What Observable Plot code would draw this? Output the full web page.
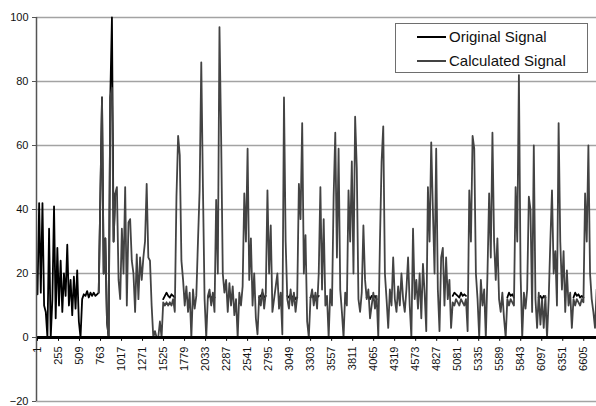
<!DOCTYPE html>
<html>
<head>
<meta charset="utf-8">
<script src="https://cdn.jsdelivr.net/npm/d3@7"></script>
<script src="https://cdn.jsdelivr.net/npm/@observablehq/plot@0.6"></script>
<style>
  body { margin: 0; background: #fff; font-family: Arial, "Liberation Sans", sans-serif; }
  #wrap { position: relative; width: 596px; height: 406px; }
  #legend { position: absolute; left: 395px; top: 23px; width: 193px; height: 50px;
            border: 1px solid #6e6e6e; background: #fff; box-sizing: border-box; }
  .row { position: absolute; left: 0; height: 18px; font-size: 15px; line-height: 18px; color: #111; }
  .sw { position: absolute; left: 21px; top: 8px; width: 29px; height: 0; border-top: 2px solid; }
  .lab { position: absolute; left: 53px; top: 0; white-space: nowrap; }
</style>
</head>
<body>
<div id="wrap">
  <div id="chart"></div>
  <div id="legend"></div>
</div>
<script>
const _ = null;
const seriesNames = ["Original Signal", "Calculated Signal"];
const seriesColors = ["#000000", "#434343"];
const sampleStep = 20; // one stored value every 20 samples, first sample = 1

const originalSignal = [
  13.5, 42, 14, 42, 10, 8, 0, 34, 0, 12,
  41, 6, 28, 10, 24, 8, 20, 13, 29, 10,
  18, 7, 19, 9, 21, 5, 0, 12, 13.5, 13,
  14.5, 12.5, 14, 13, 14, 13, 13.5, 14, 44, 75,
  20, 31, 5, 0, 75, 100, 30, 45,
  _,_,_,_,_,_,_,_,_,_,_,_,_,_,_,_,_,_,_,_,_,_,_,_,_,_,_,_,
  12, 13, 14, 13, 12.5, 13.5, 13, 12.5,
  _,_,_,_,_,_,_,_,_,_,_,_,_,_,_,_,_,_,_,
  12.5, 13.5, 12, 13, 12.5,
  _,_,_,_,_,_,_,_,_,_,_,_,_,_,_,_,_,_,_,_,_,_,_,_,_,_,
  12.5, 13, 14, 12.5, 13,
  _,_,_,_,_,_,_,_,_,_,_,_,
  13, 12.5, 13.5, 12.5, 13, 12, 12.5,
  _,_,_,_,_,_,_,
  12.5, 13.5, 12.5, 13, 12.5, 13,
  _,_,_,_,_,_,_,_,_,_,_,_,_,_,_,_,_,_,_,_,_,_,_,_,_,_,_,_,
  12.5, 13, 12, 13, 12.5, 13, 12,
  _,_,_,_,_,_,_,_,_,_,_,_,_,_,_,_,_,_,_,_,_,_,_,_,_,_,_,_,_,_,_,_,_,_,_,_,_,_,_,_,_,_,_,_,_,
  13, 14, 13.5, 13, 12.5, 14, 13, 13.5, 13,
  _,_,_,_,_,_,_,_,_,_,_,_,_,_,_,_,_,_,_,_,_,_,_,_,
  12.5, 14, 13, 13.5, 12.5,
  _,_,_,_,_,_,_,_,_,_,_,_,_,_,
  12.5, 13, 12, 13, 12.5,
  _,_,_,_,_,_,_,_,_,_,_,_,_,_,_,_,
  12.5, 14, 13, 13.5, 12.5, 13, 12.5,
  _,_,_,_,_,_,_,_
];

const calculatedSignal = [
  _,_,_,_,_,_,_,_,_,_,_,_,_,_,_,_,_,_,_,_,_,_,_,_,_,_,_,_,_,_,_,_,_,_,_,_,_,
  14, 44, 75,
  20, 31, 5, 0, 75, 78, 30, 45, 47, 18,
  12, 34, 20, 47, 10, 36, 37, 24, 20, 8,
  26, 12, 25, 18, 25, 30, 48, 25, 24, 10,
  0, 2, 0, 0, 5, 0, 11, 10, 11, 10,
  11, 10, 12, 8, 44, 63, 57, 24, 18, 10,
  16, 8, 14, 0, 15, 9, 13, 30, 46, 86,
  47, 12, 0, 13, 15, 10, 14, 8, 43, 20,
  97, 63, 20, 14, 18, 8, 17, 10, 16, 7,
  12, 0, 14, 10, 16, 45, 30, 59, 18, 31,
  10, 20, 6, 1, 13, 10, 15, 9, 14, 46,
  20, 35, 8, 12, 16, 20, 9, 14, 1, 75,
  30, 12, 9, 15, 10, 14, 8, 13, 48, 37,
  67, 20, 32, 5, 0, 12, 15, 10, 14, 9,
  20, 47, 15, 37, 10, 13, 0, 15, 10, 44,
  64, 25, 59, 15, 8, 0, 14, 10, 46, 30,
  55, 20, 69, 53, 12, 8, 14, 35, 18, 12,
  15, 6, 10, 14, 9, 13, 0, 30, 55, 66,
  20, 12, 3, 15, 10, 25, 12, 8, 16, 10,
  20, 12, 8, 15, 25, 10, 0, 34, 12, 18,
  9, 20, 6, 23, 14, 2, 47, 30, 61, 40,
  20, 59, 15, 2, 25, 28, 10, 25, 12, 18,
  3, 11, 10, 12, 11, 10, 12, 11, 10, 12,
  2, 46, 30, 63, 59, 20, 12, 0, 18, 10,
  15, 0, 20, 45, 25, 64, 30, 18, 31, 12,
  8, 14, 6, 0, 12, 10, 12, 11, 10, 47,
  30, 82, 20, 0, 14, 9, 15, 44, 40, 8,
  60, 12, 3, 14, 4, 12, 3, 13, 0, 12,
  30, 46, 20, 27, 10, 67, 30, 15, 27, 8,
  21, 10, 14, 3, 12, 10, 12, 11, 10, 12,
  11, 45, 30, 60, 20, 12, 8, 3, 15
];

const xTickLabels = [1, 255, 509, 763, 1017, 1271, 1525, 1779, 2033, 2287, 2541, 2795, 3049,
  3303, 3557, 3811, 4065, 4319, 4573, 4827, 5081, 5335, 5589, 5843, 6097, 6351, 6605];
const yTicks = [-20, 0, 20, 40, 60, 80, 100];

const toRows = arr => arr.map((v, i) => ({ sample: 1 + i * sampleStep, value: v }));
const origRows = toRows(originalSignal);
const calcRows = toRows(calculatedSignal);

const xDomain = [-11, 6759];

const chart = Plot.plot({
  width: 596,
  height: 406,
  marginLeft: 36,
  marginRight: 0,
  marginTop: 17,
  marginBottom: 5,
  style: { fontFamily: "Arial, 'Liberation Sans', sans-serif", background: "#fff" },
  x: { domain: xDomain, axis: null },
  y: { domain: [-20, 100], axis: null },
  marks: [
    Plot.ruleY(yTicks.filter(v => v !== 0), { stroke: "#a3a3a3", strokeWidth: 1.5 }),
    Plot.line(origRows, { x: "sample", y: "value", stroke: seriesColors[0], strokeWidth: 1.8 }),
    Plot.line(calcRows, { x: "sample", y: "value", stroke: seriesColors[1], strokeWidth: 1.8 }),
    Plot.ruleY([0], { stroke: "#000", strokeWidth: 3 }),
    Plot.ruleX([xDomain[0]], { stroke: "#555", strokeWidth: 1.5 }),
    Plot.ruleX(xTickLabels, { x: d => d, y1: 0, y2: -1.2, stroke: "#000", strokeWidth: 1 }),
    Plot.axisY({ ticks: yTicks, tickSize: 4, tickPadding: 4, fontSize: 11, stroke: "#555", fill: "#111", label: null }),
    Plot.text(xTickLabels, {
      x: d => d, y: 0, text: d => String(d), rotate: -90, textAnchor: "end",
      dy: 9, fontSize: 11, fill: "#111"
    })
  ]
});
document.getElementById("chart").appendChild(chart);

const legend = document.getElementById("legend");
seriesNames.forEach((name, k) => {
  const row = document.createElement("div");
  row.className = "row";
  row.style.top = (k === 0 ? 4 : 28) + "px";
  row.style.width = "190px";
  const sw = document.createElement("div");
  sw.className = "sw";
  sw.style.borderTopColor = seriesColors[k];
  const lab = document.createElement("span");
  lab.className = "lab";
  lab.textContent = name;
  row.appendChild(sw);
  row.appendChild(lab);
  legend.appendChild(row);
});
</script>
</body>
</html>
